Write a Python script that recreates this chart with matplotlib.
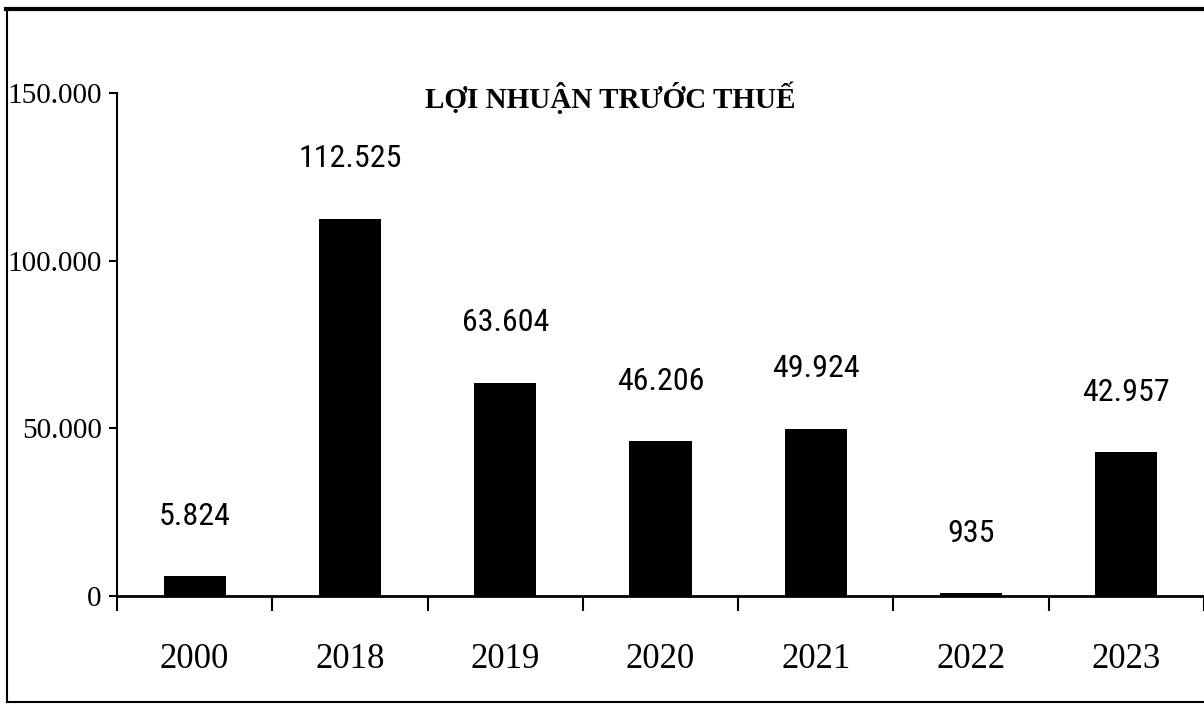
import numpy as np
import matplotlib.pyplot as plt
from matplotlib import font_manager
from matplotlib.lines import Line2D
from matplotlib.ticker import FuncFormatter

years = ['2000', '2018', '2019', '2020', '2021', '2022', '2023']
profit = [5824, 112525, 63604, 46206, 49924, 935, 42957]
y_ticks = [0, 50000, 100000, 150000]
title = 'LỢI NHUẬN TRƯỚC THUẾ'

installed = {f.name for f in font_manager.fontManager.ttflist}

def pick(*names):
    for n in names:
        if n in installed:
            return n
    return 'DejaVu Sans'

serif = pick('Liberation Serif', 'DejaVu Serif')
narrow = pick('Liberation Sans Narrow', 'Roboto Condensed', 'DejaVu Sans Condensed', 'Liberation Sans')

def dotfmt(v, pos=None):
    return f'{int(v):,}'.replace(',', '.')

W, H = 1204, 706
fig = plt.figure(figsize=(W / 100, H / 100), dpi=100)
ax = fig.add_axes([117 / W, 1 - 596 / H, 1087 / W, 503 / H])

x = np.arange(len(years)) + 0.5
ax.bar(x, profit, width=0.4, color='black')
ax.set_xlim(0, len(years))
ax.set_ylim(0, 150000)

for s in ['top', 'right']:
    ax.spines[s].set_visible(False)
ax.spines['left'].set_linewidth(1.5)
ax.spines['bottom'].set_linewidth(2)

ax.set_yticks(y_ticks)
ax.yaxis.set_major_formatter(FuncFormatter(dotfmt))
ax.set_xticks(x)
ax.set_xticklabels(years)
ax.set_xticks(np.arange(len(years) + 1), minor=True)
ax.tick_params(axis='x', which='major', length=0, pad=34, labelsize=25)
ax.tick_params(axis='x', which='minor', length=11, width=1.5)
ax.tick_params(axis='y', length=6, width=1.5, pad=5, labelsize=21)
for lab in ax.get_xticklabels() + ax.get_yticklabels():
    lab.set_family(serif)

# value labels above the bars
for xi, v in zip(x, profit):
    ax.annotate(dotfmt(v), (xi, v), xytext=(0, 43), textcoords='offset points',
                ha='center', va='center', fontsize=23, family=narrow)

fig.text(610 / W, 1 - 108 / H, title, ha='center', va='baseline',
         fontsize=21, fontweight='bold', family=serif)

# outer frame of the scanned chart
fig.add_artist(Line2D([6 / W, 1], [1 - 9 / H] * 2, color='black', lw=3))
fig.add_artist(Line2D([7 / W] * 2, [1 - 9 / H, 1 - 702 / H], color='black', lw=1.5))
fig.add_artist(Line2D([7 / W, 1], [1 - 702 / H] * 2, color='black', lw=1.5))

fig.savefig('out.png', dpi=100)
